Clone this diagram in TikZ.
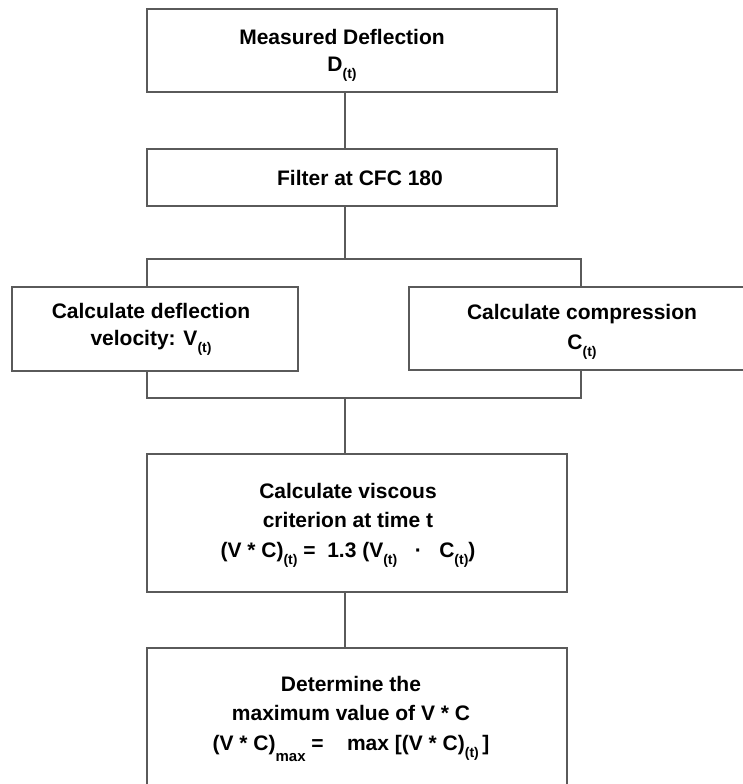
\documentclass[tikz,border=0pt]{standalone}
\usepackage{fontspec}
\setmainfont{Liberation Sans}
\definecolor{linegray}{RGB}{90,90,90}
\newcommand{\lowsub}[1]{\raisebox{-0.33em}{\fontsize{14}{14}\selectfont #1}}
\newcommand{\lowersub}[1]{\raisebox{-0.55em}{\fontsize{15}{15}\selectfont #1}}
\tikzset{
  box/.style={draw=linegray, line width=1.4pt, rectangle, inner sep=0pt, fill=white},
  conn/.style={draw=linegray, line width=1.3pt},
  lbl/.style={align=center, inner sep=0pt, text=black},
  lblA/.style={lbl, font=\bfseries\fontsize{21}{27}\selectfont},
  lblB/.style={lbl, font=\bfseries\fontsize{21}{29.5}\selectfont},
}
\begin{document}
\begin{tikzpicture}[x=1pt,y=-1pt]
\useasboundingbox (0,0) rectangle (743,784);
\clip (0,0) rectangle (743,784);
\fill[white] (0,0) rectangle (743,784);
\coordinate (spine) at (345,0);
\coordinate (lt) at (147,259);
\coordinate (rt) at (581,259);
\coordinate (lb) at (147,398);
\coordinate (rb) at (581,398);
% boxes
\node[box, minimum width=410pt, minimum height=83pt] (b1) at (352,50.5) {};
\node[box, minimum width=410pt, minimum height=57pt] (b2) at (352,177.5) {};
\node[box, minimum width=286pt, minimum height=84pt] (vel) at (155,329) {};
\node[box, minimum width=346pt, minimum height=83pt] (comp) at (582,328.5) {};
\node[box, minimum width=420pt, minimum height=138pt] (b3) at (357,523) {};
\node[box, minimum width=420pt, minimum height=162pt] (b4) at (357,729) {};
% texts
\node[lblA] (t1) at (342,55) {Measured Deflection\\D\lowsub{(t)}};
\node[lblA] (t2) at (360,178) {Filter at CFC 180};
\node[lblA] (tv) at (151,329) {Calculate deflection\\velocity: V\lowsub{(t)}};
\node[lblB] (tc) at (582,332) {Calculate compression\\C\lowsub{(t)}};
\node[lblB] (t3) at (348,525) {Calculate viscous\\criterion at time t\\(V * C)\lowsub{(t)} =\ \ 1.3 (V\lowsub{(t)}\ \ \ ·\ \ \ C\lowsub{(t)})};
\node[lblB] (t4) at (351,719) {Determine the\\maximum value of V * C\\(V * C)\lowersub{max} =\ \ \ \ max [(V * C)\lowsub{(t)}\,]};
% connectors
\draw[conn] (b1.south -| spine) -- (b2.north -| spine);
\draw[conn] (b2.south -| spine) -- (spine |- lt);
\draw[conn] (vel.north -| lt) -- (lt) -- (rt) -- (comp.north -| rt);
\draw[conn] (vel.south -| lb) -- (lb) -- (rb) -- (comp.south -| rb);
\draw[conn] (spine |- lb) -- (b3.north -| spine);
\draw[conn] (b3.south -| spine) -- (b4.north -| spine);
\end{tikzpicture}
\end{document}
